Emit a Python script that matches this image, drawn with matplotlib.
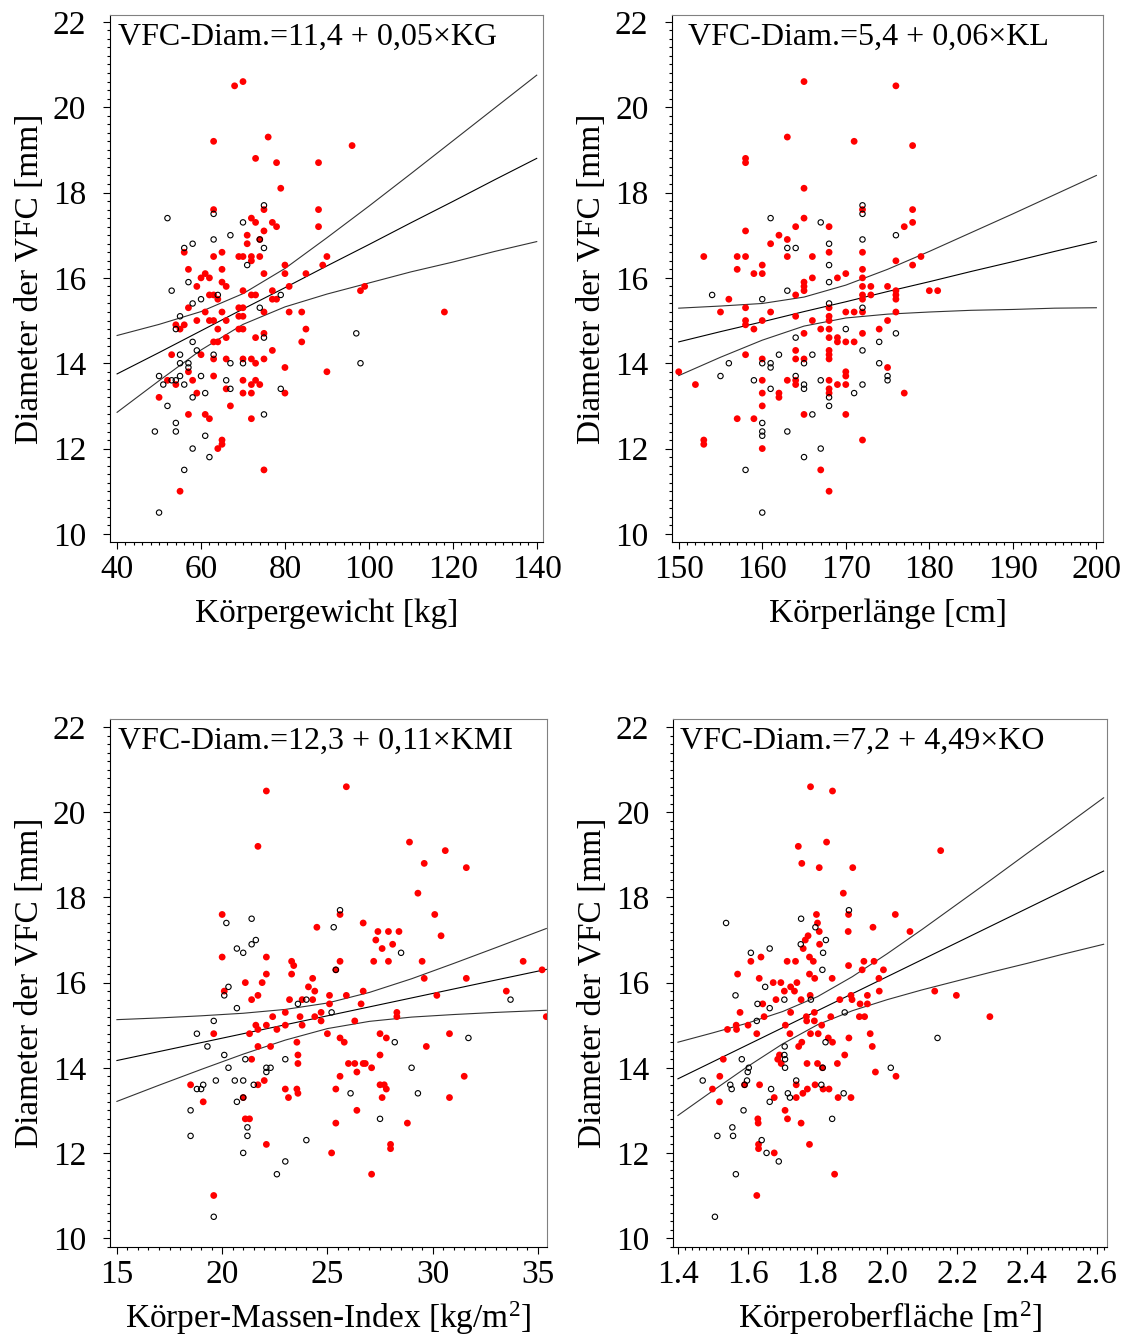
import matplotlib
matplotlib.use('Agg')
import matplotlib.pyplot as plt
from matplotlib.ticker import MultipleLocator, FormatStrFormatter

# =============================================================================
#                               Data
# =============================================================================
# --- Koerpergewicht [kg] ---
kg_red_x = [68, 70, 63, 76, 96, 73, 78, 88, 79, 63,
            75, 88, 72, 73, 77, 78, 88, 75, 71, 74,
            71, 65, 56, 69, 70, 72, 74, 63, 72, 90,
            80, 89, 57, 65, 61, 60, 62, 75, 80, 85,
            65, 66, 59, 81, 98, 99, 70, 77, 62, 63,
            72, 73, 64, 77, 78, 57, 69, 70, 61, 65,
            75, 81, 84, 118, 69, 70, 59, 62, 63, 66,
            54, 56, 55, 64, 69, 70, 85, 75, 73, 66,
            63, 64, 84, 77, 53, 60, 63, 66, 70, 72,
            75, 73, 80, 57, 90, 63, 52, 58, 70, 73,
            54, 72, 74, 66, 59, 70, 72, 80, 50, 67,
            57, 61, 62, 72, 65, 65, 64, 75, 55]
kg_red_y = [20.5, 20.6, 19.2, 19.3, 19.1, 18.8, 18.7, 18.7, 18.1, 17.6,
            17.6, 17.6, 17.4, 17.3, 17.3, 17.2, 17.2, 17.1, 17.0, 16.9,
            16.8, 16.6, 16.6, 16.5, 16.5, 16.5, 16.5, 16.5, 16.4, 16.5,
            16.3, 16.3, 16.2, 16.2, 16.1, 16.0, 16.0, 16.1, 16.1, 16.1,
            15.9, 15.8, 15.8, 15.8, 15.7, 15.8, 15.7, 15.7, 15.6, 15.6,
            15.6, 15.6, 15.5, 15.5, 15.5, 15.3, 15.3, 15.3, 15.2, 15.2,
            15.2, 15.2, 15.2, 15.2, 15.1, 15.1, 15.0, 15.0, 15.0, 15.0,
            14.9, 14.9, 14.8, 14.8, 14.8, 14.8, 14.8, 14.7, 14.6, 14.6,
            14.5, 14.5, 14.5, 14.3, 14.2, 14.2, 14.1, 14.1, 14.1, 14.1,
            14.1, 14.0, 13.9, 13.8, 13.8, 13.7, 13.6, 13.6, 13.6, 13.6,
            13.5, 13.5, 13.5, 13.4, 13.3, 13.3, 13.3, 13.3, 13.2, 13.0,
            12.8, 12.8, 12.7, 12.7, 12.2, 12.1, 12.0, 11.5, 11.0]
kg_open_x = [52, 63, 75, 70, 67, 63, 58, 56, 75, 74,
             71, 57, 53, 60, 58, 64, 79, 74, 55, 54,
             58, 75, 97, 59, 63, 55, 55, 57, 57, 67,
             70, 98, 50, 55, 60, 53, 54, 66, 51, 56,
             67, 79, 58, 61, 52, 75, 54, 54, 49, 61,
             58, 62, 56, 50]
kg_open_y = [17.4, 17.5, 17.7, 17.3, 17.0, 16.9, 16.8, 16.7, 16.7, 16.9,
             16.3, 15.9, 15.7, 15.5, 15.4, 15.6, 15.6, 15.3, 15.1, 14.8,
             14.5, 14.6, 14.7, 14.3, 14.2, 14.2, 14.0, 14.0, 13.9, 14.0,
             14.0, 14.0, 13.7, 13.7, 13.7, 13.6, 13.6, 13.6, 13.5, 13.5,
             13.4, 13.4, 13.2, 13.3, 13.0, 12.8, 12.6, 12.4, 12.4, 12.3,
             12.0, 11.8, 11.5, 10.5]
kg_line_x = [40, 50, 60, 70, 80, 90, 100, 110, 120, 130, 140]
kg_fit = [13.75, 14.25, 14.76, 15.27, 15.77, 16.28, 16.78, 17.29, 17.79, 18.30, 18.80]
kg_upper = [14.65, 14.91, 15.21, 15.63, 16.22, 16.94, 17.68, 18.44, 19.21, 19.98, 20.75]
kg_lower = [12.85, 13.59, 14.31, 14.91, 15.32, 15.62, 15.88, 16.14, 16.37, 16.62, 16.85]

# --- Koerperlaenge [cm] ---
kl_red_x = [165, 176, 163, 171, 178, 158, 158, 165, 172, 178,
            165, 164, 168, 177, 178, 158, 162, 163, 161, 172,
            168, 153, 157, 158, 163, 166, 179, 176, 160, 178,
            157, 172, 159, 160, 170, 169, 172, 166, 165, 165,
            165, 172, 173, 175, 180, 181, 176, 176, 176, 172,
            173, 172, 164, 156, 158, 168, 155, 161, 170, 171,
            172, 176, 164, 168, 158, 160, 166, 168, 175, 158,
            159, 167, 168, 174, 165, 172, 168, 169, 169, 170,
            171, 164, 168, 158, 168, 164, 165, 168, 160, 175,
            150, 170, 170, 152, 163, 164, 164, 160, 168, 169,
            170, 168, 168, 160, 162, 162, 177, 160, 165, 170,
            157, 159, 153, 153, 172, 160, 167, 168]
kl_red_y = [20.6, 20.5, 19.3, 19.2, 19.1, 18.8, 18.7, 18.1, 17.6, 17.6,
            17.4, 17.2, 17.2, 17.2, 17.3, 17.1, 17.0, 16.9, 16.8, 16.6,
            16.6, 16.5, 16.5, 16.5, 16.5, 16.5, 16.5, 16.4, 16.3, 16.3,
            16.2, 16.2, 16.1, 16.1, 16.1, 16.0, 16.0, 16.0, 15.9, 15.8,
            15.7, 15.8, 15.8, 15.8, 15.7, 15.7, 15.7, 15.6, 15.5, 15.6,
            15.6, 15.5, 15.6, 15.5, 15.3, 15.3, 15.2, 15.2, 15.2, 15.2,
            15.2, 15.2, 15.1, 15.1, 15.0, 15.0, 15.0, 15.0, 15.0, 14.9,
            14.8, 14.8, 14.8, 14.8, 14.7, 14.7, 14.6, 14.6, 14.5, 14.5,
            14.5, 14.3, 14.3, 14.2, 14.2, 14.1, 14.1, 14.1, 14.1, 13.9,
            13.8, 13.8, 13.7, 13.5, 13.6, 13.6, 13.5, 13.6, 13.6, 13.5,
            13.5, 13.4, 13.3, 13.3, 13.3, 13.2, 13.3, 13.0, 12.8, 12.8,
            12.7, 12.7, 12.2, 12.1, 12.2, 12.0, 11.5, 11.0]
kl_open_x = [172, 172, 161, 167, 176, 172, 168, 163, 164, 168,
             168, 163, 154, 160, 168, 172, 170, 176, 164, 174,
             172, 162, 166, 156, 160, 161, 161, 165, 174, 155,
             164, 175, 175, 159, 167, 165, 165, 172, 161, 171,
             168, 168, 166, 160, 160, 160, 163, 167, 165, 158,
             160]
kl_open_y = [17.7, 17.5, 17.4, 17.3, 17.0, 16.9, 16.8, 16.7, 16.7, 16.3,
             15.9, 15.7, 15.6, 15.5, 15.4, 15.3, 14.8, 14.7, 14.6, 14.5,
             14.3, 14.2, 14.2, 14.0, 14.0, 14.0, 13.9, 14.0, 14.0, 13.7,
             13.7, 13.7, 13.6, 13.6, 13.6, 13.5, 13.4, 13.5, 13.4, 13.3,
             13.2, 13.0, 12.8, 12.6, 12.4, 12.3, 12.4, 12.0, 11.8, 11.5,
             10.5]
kl_line_x = [150, 155, 160, 165, 170, 175, 180, 185, 190, 195, 200]
kl_fit = [14.50, 14.74, 14.97, 15.21, 15.44, 15.68, 15.91, 16.15, 16.38, 16.62, 16.85]
kl_upper = [15.29, 15.34, 15.40, 15.55, 15.83, 16.20, 16.62, 17.06, 17.50, 17.95, 18.40]
kl_lower = [13.71, 14.14, 14.54, 14.87, 15.06, 15.15, 15.20, 15.24, 15.26, 15.29, 15.30]

# --- Koerper-Massen-Index [kg/m2] ---
kmi_red_x = [22.1, 25.9, 21.7, 28.9, 30.6, 29.6, 31.6, 29.3, 30.1, 20.0,
             24.5, 26.7, 27.4, 27.9, 28.4, 30.4, 27.3, 28.1, 27.6, 25.6,
             20.0, 22.1, 23.3, 23.4, 25.6, 27.2, 27.9, 29.5, 34.3, 35.2,
             22.1, 23.3, 24.3, 21.1, 21.9, 29.6, 31.6, 24.1, 20.1, 24.4,
             26.7, 33.5, 21.7, 25.9, 25.1, 30.2, 21.4, 23.2, 23.8, 24.3,
             25.1, 26.6, 23.0, 24.7, 28.3, 28.3, 22.4, 23.7, 24.4, 35.4,
             24.7, 26.3, 21.6, 22.1, 21.7, 23.0, 23.8, 22.6, 19.6, 21.3,
             25.0, 27.5, 30.8, 27.8, 25.6, 25.8, 23.55, 21.7, 22.3, 29.7,
             27.5, 23.6, 21.4, 23.6, 26.0, 26.3, 26.7, 26.8, 27.1, 26.4,
             25.6, 31.5, 22.0, 21.7, 18.5, 23.0, 23.55, 23.6, 25.4, 27.5,
             27.7, 27.8, 23.15, 21.0, 19.1, 27.6, 30.8, 26.4, 21.1, 21.3,
             25.4, 28.8, 22.1, 28.0, 28.0, 25.2, 27.1, 19.6, 25.4]
kmi_red_y = [20.5, 20.6, 19.2, 19.3, 19.1, 18.8, 18.7, 18.1, 17.6, 17.6,
             17.3, 17.4, 17.2, 17.2, 17.2, 17.1, 17.0, 16.9, 16.8, 17.6,
             16.6, 16.6, 16.5, 16.4, 16.5, 16.5, 16.5, 16.5, 16.5, 16.3,
             16.2, 16.2, 16.1, 16.0, 16.0, 16.1, 16.1, 15.9, 15.8, 15.8,
             15.8, 15.8, 15.7, 15.7, 15.7, 15.7, 15.6, 15.6, 15.6, 15.6,
             15.5, 15.5, 15.3, 15.3, 15.3, 15.2, 15.2, 15.2, 15.2, 15.2,
             15.1, 15.1, 15.0, 15.0, 14.9, 15.0, 15.0, 14.9, 14.8, 14.8,
             14.8, 14.8, 14.8, 14.7, 14.7, 14.6, 14.6, 14.5, 14.5, 14.5,
             14.3, 14.3, 14.2, 14.1, 14.1, 14.1, 14.1, 14.1, 14.0, 13.9,
             13.8, 13.8, 13.7, 13.6, 13.6, 13.5, 13.5, 13.4, 13.5, 13.6,
             13.6, 13.5, 13.3, 13.3, 13.2, 13.3, 13.3, 13.0, 12.8, 12.8,
             12.7, 12.7, 12.2, 12.2, 12.1, 12.0, 11.5, 11.0, 16.3]
kmi_open_x = [25.6, 21.4, 20.2, 25.3, 21.6, 21.4, 20.7, 21.0, 28.5, 25.4,
              20.3, 20.1, 33.7, 20.7, 23.6, 24.0, 25.2, 19.6, 18.8, 28.2,
              31.7, 19.3, 20.1, 21.1, 23.0, 20.3, 22.1, 22.3, 22.1, 29.0,
              19.7, 20.6, 21.0, 19.1, 18.8, 19.0, 21.5, 26.1, 29.3, 20.7,
              21.0, 18.5, 27.5, 21.2, 21.2, 18.5, 24.0, 21.0, 23.0, 22.6,
              19.6]
kmi_open_y = [17.7, 17.5, 17.4, 17.3, 17.0, 16.9, 16.8, 16.7, 16.7, 16.3,
              15.9, 15.7, 15.6, 15.4, 15.5, 15.6, 15.3, 15.1, 14.8, 14.6,
              14.7, 14.5, 14.3, 14.2, 14.2, 14.0, 14.0, 14.0, 13.9, 14.0,
              13.7, 13.7, 13.7, 13.6, 13.5, 13.5, 13.6, 13.4, 13.4, 13.2,
              13.3, 13.0, 12.8, 12.6, 12.4, 12.4, 12.3, 12.0, 11.8, 11.5,
              10.5]
kmi_line_x = [15, 17, 19, 21, 23, 25, 27, 29, 31, 33, 35.4]
kmi_fit = [14.17, 14.38, 14.59, 14.80, 15.01, 15.22, 15.43, 15.64, 15.85, 16.06, 16.31]
kmi_upper = [15.13, 15.17, 15.22, 15.28, 15.37, 15.52, 15.77, 16.09, 16.45, 16.82, 17.27]
kmi_lower = [13.21, 13.59, 13.96, 14.32, 14.65, 14.92, 15.09, 15.19, 15.25, 15.30, 15.35]

# --- Koerperoberflaeche [m2] ---
ko_red_x = [1.780, 1.843, 1.745, 1.826, 2.153, 1.755, 1.805, 1.901, 1.874, 1.797,
            1.800, 1.889, 2.023, 1.959, 1.805, 1.888, 2.065, 1.773, 1.765, 1.806,
            1.759, 1.777, 1.638, 1.609, 1.713, 1.737, 1.788, 1.933, 1.962, 1.889,
            1.571, 1.777, 1.928, 1.989, 1.633, 1.792, 1.842, 1.976, 1.673, 1.695,
            1.741, 1.723, 1.734, 1.705, 1.977, 2.136, 2.198, 1.779, 1.896, 1.899,
            1.943, 1.681, 1.753, 1.864, 1.922, 1.943, 1.643, 1.578, 1.723, 1.791,
            1.647, 1.768, 1.769, 1.838, 1.920, 1.935, 2.294, 1.791, 1.567, 1.568,
            1.601, 1.708, 1.812, 1.542, 1.626, 1.721, 1.780, 1.802, 1.951, 1.831,
            1.843, 1.890, 1.755, 1.746, 1.957, 1.878, 1.691, 1.686, 1.696, 1.530,
            1.770, 1.800, 1.857, 1.814, 1.966, 1.520, 2.025, 1.591, 1.634, 1.739,
            1.793, 1.499, 1.771, 1.816, 1.833, 1.758, 1.676, 1.739, 1.859, 1.896,
            1.519, 1.707, 1.629, 1.630, 1.714, 1.753, 1.631, 1.631, 1.676, 1.777,
            1.849, 1.626]
ko_red_y = [20.6, 20.5, 19.2, 19.3, 19.1, 18.8, 18.7, 18.7, 18.1, 17.6,
            17.4, 17.6, 17.6, 17.3, 17.2, 17.2, 17.2, 17.1, 17.0, 16.9,
            16.8, 16.6, 16.6, 16.5, 16.5, 16.5, 16.5, 16.5, 16.5, 16.4,
            16.2, 16.2, 16.3, 16.3, 16.1, 16.1, 16.1, 16.1, 16.0, 16.0,
            16.0, 15.9, 15.8, 15.8, 15.8, 15.8, 15.7, 15.7, 15.7, 15.6,
            15.7, 15.6, 15.6, 15.6, 15.5, 15.5, 15.5, 15.3, 15.3, 15.3,
            15.2, 15.2, 15.1, 15.2, 15.2, 15.2, 15.2, 15.1, 15.0, 14.9,
            15.0, 15.0, 15.0, 14.9, 14.8, 14.8, 14.8, 14.8, 14.8, 14.7,
            14.6, 14.7, 14.6, 14.5, 14.5, 14.3, 14.3, 14.2, 14.1, 14.2,
            14.1, 14.1, 14.1, 14.0, 13.9, 13.8, 13.8, 13.6, 13.6, 13.6,
            13.6, 13.5, 13.5, 13.5, 13.5, 13.4, 13.3, 13.3, 13.3, 13.3,
            13.2, 13.0, 12.8, 12.7, 12.8, 12.7, 12.2, 12.1, 12.0, 12.2,
            11.5, 11.0]
ko_open_x = [1.890, 1.538, 1.753, 1.794, 1.824, 1.752, 1.663, 1.609, 1.816, 1.814,
             1.650, 1.565, 1.705, 1.781, 1.628, 1.663, 1.878, 1.626, 1.823, 1.706,
             2.144, 1.705, 1.707, 1.583, 1.603, 1.600, 1.707, 1.815, 2.010, 1.471,
             1.598, 1.739, 1.550, 1.554, 1.591, 1.811, 1.667, 1.715, 1.875, 1.721,
             1.663, 1.588, 1.842, 1.556, 1.558, 1.513, 1.640, 1.654, 1.689, 1.566,
             1.506]
ko_open_y = [17.7, 17.4, 17.5, 17.3, 17.0, 16.9, 16.8, 16.7, 16.7, 16.3,
             15.9, 15.7, 15.6, 15.6, 15.5, 15.4, 15.3, 15.1, 14.6, 14.5,
             14.7, 14.3, 14.2, 14.2, 14.0, 13.9, 14.0, 14.0, 14.0, 13.7,
             13.7, 13.7, 13.6, 13.5, 13.6, 13.6, 13.5, 13.4, 13.4, 13.3,
             13.2, 13.0, 12.8, 12.6, 12.4, 12.4, 12.3, 12.0, 11.8, 11.5,
             10.5]
ko_line_x = [1.40, 1.50, 1.60, 1.70, 1.80, 1.90, 2.00, 2.10, 2.20, 2.30, 2.40, 2.50, 2.62]
ko_fit = [13.74, 14.14, 14.54, 14.94, 15.34, 15.74, 16.14, 16.54, 16.94, 17.34, 17.74, 18.14, 18.62]
ko_upper = [14.60, 14.82, 15.05, 15.32, 15.67, 16.14, 16.68, 17.25, 17.84, 18.43, 19.03, 19.62, 20.34]
ko_lower = [12.88, 13.46, 14.03, 14.56, 15.01, 15.34, 15.60, 15.83, 16.04, 16.25, 16.45, 16.66, 16.90]

# =============================================================================
#                               Plot
# =============================================================================
plt.rcParams['font.family'] = 'Liberation Serif'
plt.rcParams['mathtext.fontset'] = 'custom'
plt.rcParams['mathtext.rm'] = 'Liberation Serif'
plt.rcParams['mathtext.it'] = 'Liberation Serif:italic'

fig = plt.figure(figsize=(11.21, 13.39), dpi=100)


def panel(rect, red_x, red_y, open_x, open_y, line_x, fit, upper, lower,
          xlim, ylim, xmajor, xminor, xfmt, xlabel, xpad, eq, eq_x):
    ax = fig.add_axes(rect)
    ax.scatter(red_x, red_y, s=24, c='red', edgecolors='none', zorder=3)
    ax.scatter(open_x, open_y, s=15, facecolors='none', edgecolors='black',
               linewidths=0.8, zorder=4)
    ax.plot(line_x, fit, color='black', lw=0.8, zorder=2)
    ax.plot(line_x, upper, color='0.2', lw=0.8, zorder=2)
    ax.plot(line_x, lower, color='0.2', lw=0.8, zorder=2)

    ax.set_xlim(*xlim)
    ax.set_ylim(*ylim)
    ax.xaxis.set_major_locator(MultipleLocator(xmajor))
    ax.xaxis.set_minor_locator(MultipleLocator(xminor))
    ax.xaxis.set_major_formatter(FormatStrFormatter(xfmt))
    ax.yaxis.set_major_locator(MultipleLocator(2))
    ax.yaxis.set_minor_locator(MultipleLocator(0.2))

    for s in ['top', 'right']:
        ax.spines[s].set_color('0.5')
    for s in ['left', 'bottom']:
        ax.spines[s].set_color('black')
    ax.tick_params(which='both', direction='out', width=0.8, labelsize=24,
                   top=False, right=False)
    ax.tick_params(which='major', length=5)
    ax.tick_params(which='minor', length=2.5)
    ax.tick_params(axis='y', which='major', pad=12)
    ax.tick_params(axis='x', which='major', pad=4)

    ax.set_ylabel('Diameter der VFC [mm]', fontsize=24, labelpad=6)
    ax.set_xlabel(xlabel, fontsize=24, labelpad=xpad)
    ax.text(eq_x, 0.985, eq, transform=ax.transAxes, fontsize=23,
            ha='left', va='top')
    return ax


panel([0.0981, 0.5952, 0.3863, 0.3936], kg_red_x, kg_red_y, kg_open_x, kg_open_y,
      kg_line_x, kg_fit, kg_upper, kg_lower, (38.3, 141.5), (9.81, 22.16),
      20, 2, '%d', 'Körpergewicht [kg]', 10, 'VFC-Diam.=11,4 + 0,05×KG', 0.018)

panel([0.5995, 0.5952, 0.3845, 0.3936], kl_red_x, kl_red_y, kl_open_x, kl_open_y,
      kl_line_x, kl_fit, kl_upper, kl_lower, (149.2, 200.8), (9.81, 22.16),
      10, 1, '%d', 'Körperlänge [cm]', 10, 'VFC-Diam.=5,4 + 0,06×KL', 0.037)

panel([0.0981, 0.0687, 0.3898, 0.3943], kmi_red_x, kmi_red_y, kmi_open_x, kmi_open_y,
      kmi_line_x, kmi_fit, kmi_upper, kmi_lower, (14.67, 35.43), (9.79, 22.19),
      5, 0.5, '%d', 'Körper-Massen-Index [kg/m$^2$]', 7, 'VFC-Diam.=12,3 + 0,11×KMI', 0.018)

panel([0.6004, 0.0687, 0.3872, 0.3943], ko_red_x, ko_red_y, ko_open_x, ko_open_y,
      ko_line_x, ko_fit, ko_upper, ko_lower, (1.386, 2.63), (9.79, 22.19),
      0.2, 0.02, '%.1f', 'Körperoberfläche [m$^2$]', 7, 'VFC-Diam.=7,2 + 4,49×KO', 0.016)

fig.savefig('out.png', dpi=100)
